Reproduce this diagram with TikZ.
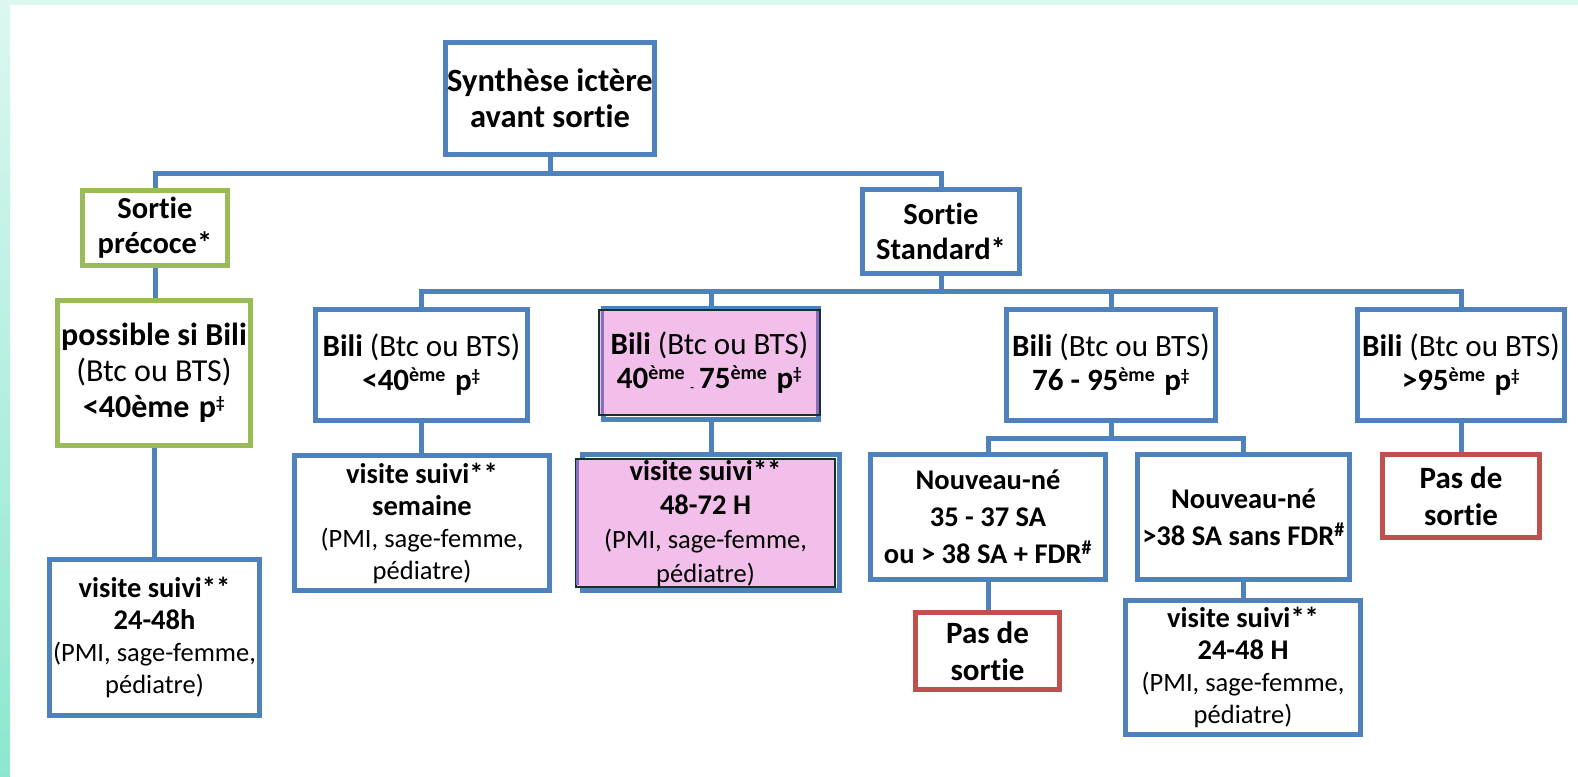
\documentclass[tikz,border=0pt]{standalone}
\usepackage{fontspec}
\setmainfont{Carlito}[Ligatures=NoCommon]
\definecolor{ublue}{HTML}{4F81BD}
\definecolor{ugreen}{HTML}{9BBB59}
\definecolor{ured}{HTML}{C0504D}
\definecolor{upink}{HTML}{F1BFE9}
\definecolor{udark}{HTML}{12332A}
\definecolor{upurple}{HTML}{8A6CC0}
\definecolor{striptop}{HTML}{DCF7F0}
\definecolor{stripbot}{HTML}{8DE7CE}
\newcommand{\rg}[1]{{\mdseries #1}}
\newcommand{\smreg}[1]{{\fontsize{26.5}{32}\selectfont\mdseries #1}}
\newcommand{\pdag}{\hspace{2pt}p\textsuperscript{\fontsize{17}{17}\selectfont ‡}}
\newcommand{\eme}{\textsuperscript{\fontsize{20}{20}\selectfont ème}}
\begin{document}
\begin{tikzpicture}[x=1pt,y=-1pt,
  box/.style={draw=ublue, line width=5pt, rectangle, inner sep=0pt,
    align=center, text=black, font=\bfseries\fontsize{31}{34}\selectfont},
  gbox/.style={box, draw=ugreen},
  rbox/.style={box, draw=ured, font=\bfseries\fontsize{31}{37}\selectfont},
  vbox/.style={box, font=\bfseries\fontsize{28.5}{32}\selectfont},
  nbox/.style={box, font=\bfseries\fontsize{28.5}{37}\selectfont},
  pbox/.style={rectangle, inner sep=0pt, fill=upink, draw=udark, line width=2pt,
    align=center, text=black},
  frame/.style={draw=ublue, line width=5pt, rectangle, inner sep=0pt},
  link/.style={draw=ublue, line width=5pt},
  purp/.style={draw=upurple, line width=3pt}
]
\useasboundingbox (0,0) rectangle (1578,776);
\fill[white] (0,0) rectangle (1578,776);
\fill[striptop] (0,0) rectangle (1578,5);
\shade[top color=striptop, bottom color=stripbot] (0,0) rectangle (10,776);

% nodes
\node[box, minimum width=209pt, minimum height=112pt, font=\bfseries\fontsize{32.5}{36}\selectfont] (top) at (550,98.5) {Synthèse ictère\\avant sortie};
\node[gbox, minimum width=145pt, minimum height=75pt, font=\bfseries\fontsize{30.5}{35}\selectfont] (precoce) at (155,228) {Sortie\\précoce*};
\node[box, minimum width=157pt, minimum height=84pt, font=\bfseries\fontsize{30.5}{35}\selectfont] (standard) at (941,231.5) {Sortie\\Standard*};
\node[gbox, minimum width=193pt, minimum height=145pt, font=\bfseries\fontsize{32}{36}\selectfont] (possible) at (154,373) {possible si Bili\\\rg{(Btc ou BTS)}\\<40ème \pdag};
\node[vbox, minimum width=210pt, minimum height=156pt] (visite1) at (154.5,637.5) {visite suivi**\\24-48h\\\smreg{(PMI, sage-femme,}\\\smreg{pédiatre)}};

\node[box, minimum width=212pt, minimum height=111pt] (bili1) at (421.5,365) {Bili \rg{(Btc ou BTS)}\\<40\eme{} \pdag};

\node[frame, minimum width=215pt, minimum height=111pt] (bili2) at (711,364) {};
\node[pbox, minimum width=221pt, minimum height=105pt, font=\bfseries\fontsize{31}{34}\selectfont] (bili2t) at (709.5,362.5) {Bili \rg{(Btc ou BTS)}\\40\eme\,{\fontsize{12}{12}\selectfont\raisebox{-3pt}{-}}\,75\eme{} \pdag};
\draw[purp] (602,311) -- (602,414);
\draw[purp] (817,311) -- (817,414);

\node[box, minimum width=209pt, minimum height=111pt] (bili3) at (1111,365) {Bili \rg{(Btc ou BTS)}\\76 - 95\eme{} \pdag};
\node[box, minimum width=207pt, minimum height=111pt] (bili4) at (1461,365) {Bili \rg{(Btc ou BTS)}\\>95\eme{} \pdag};

\node[vbox, minimum width=255pt, minimum height=135pt] (visite2) at (422,523) {visite suivi**\\semaine\\\smreg{(PMI, sage-femme,}\\\smreg{pédiatre)}};

\node[frame, minimum width=257pt, minimum height=136pt] (visite3) at (711,522.5) {};
\node[pbox, minimum width=259pt, minimum height=128pt, font=\bfseries\fontsize{28.5}{34}\selectfont] (visite3t) at (705.5,523) {visite suivi**\\48-72 H\\\smreg{(PMI, sage-femme,}\\\smreg{pédiatre)}};
\draw[purp] (577,460) -- (577,585);

\node[nbox, minimum width=235pt, minimum height=125pt] (nn1) at (988,517) {Nouveau-né\\35 - 37 SA\\ou > 38 SA + FDR\textsuperscript{\#}};
\node[nbox, minimum width=212pt, minimum height=125pt] (nn2) at (1243.5,517) {Nouveau-né\\>38 SA sans FDR\textsuperscript{\#}};
\node[rbox, minimum width=157pt, minimum height=83pt] (pas1) at (1461,496) {Pas de\\sortie};
\node[rbox, minimum width=144pt, minimum height=77pt] (pas2) at (987.5,651) {Pas de\\sortie};
\node[vbox, minimum width=235pt, minimum height=134pt] (visite4) at (1243,667.5) {visite suivi**\\24-48 H\\\smreg{(PMI, sage-femme,}\\\smreg{pédiatre)}};

% connectors
\coordinate (bus1) at (0,173);
\coordinate (bus2) at (0,291);
\coordinate (bus3) at (0,438);
\draw[link] (top.south) -- (top.south |- bus1);
\draw[link] (precoce.north) |- (standard.north |- bus1) -- (standard.north);
\draw[link] (precoce.south) -- (precoce.south |- possible.north);
\draw[link] (possible.south) -- (possible.south |- visite1.north);
\draw[link] (standard.south) -- (standard.south |- bus2);
\draw[link] (bili1.north) |- (bili4.north |- bus2) -- (bili4.north);
\draw[link] (bili2.north) -- (bili2.north |- bus2);
\draw[link] (bili3.north) -- (bili3.north |- bus2);
\draw[link] (bili1.south) -- (bili1.south |- visite2.north);
\draw[link] (bili2.south) -- (bili2.south |- visite3.north);
\draw[link] (bili3.south) -- (bili3.south |- bus3);
\draw[link] (nn1.north) |- (nn2.north |- bus3) -- (nn2.north);
\draw[link] (bili4.south) -- (bili4.south |- pas1.north);
\draw[link] (nn1.south) -- (nn1.south |- pas2.north);
\draw[link] (nn2.south) -- (nn2.south |- visite4.north);
\end{tikzpicture}
\end{document}
